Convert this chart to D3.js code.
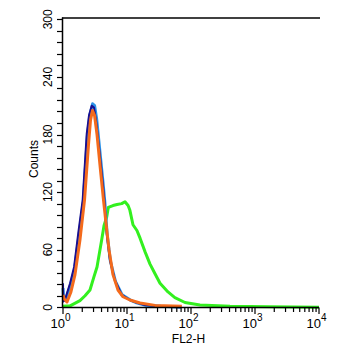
<!DOCTYPE html>
<html><head><meta charset="utf-8">
<script src="https://cdn.jsdelivr.net/npm/d3@7"></script>
<style>body{margin:0;background:#fff}svg{display:block}text{font-family:"Liberation Sans",Arial,Helvetica,sans-serif;fill:#000}</style>
</head><body>
<script>
// FL2-H channel values (log scale) and counts for each histogram
const navyX   = [1.0, 1.01, 1.075, 1.29, 1.49, 1.73, 2.03, 2.35, 2.55, 2.81, 3.05, 3.28, 3.69, 4.17, 4.42, 4.82, 5.42, 6.49, 8.26, 11.1, 13.3, 19, 32.8, 67];
const navyY   = [25, 6, 8, 25, 42, 77, 112, 181, 200, 210, 208, 195, 164, 130, 112, 77, 49, 28, 13, 7.6, 5.5, 2.4, 1, 0];
const blueX   = [1.0, 1.03, 1.1, 1.32, 1.52, 1.77, 2.08, 2.4, 2.62, 2.9, 3.12, 3.36, 3.78, 4.25, 4.5, 4.9, 5.5, 6.6, 8.4, 11.3, 13.6, 19.5, 34, 70];
const blueY   = [20, 7, 8, 24, 40, 74, 110, 178, 200, 212, 210, 196, 162, 128, 110, 76, 48, 27, 13, 7.5, 5, 2.2, 1, 0];
const orangeX = [1.0, 1.04, 1.155, 1.33, 1.54, 1.84, 2.17, 2.5, 2.69, 2.89, 3.11, 3.4, 3.85, 4.29, 4.78, 5.23, 6.04, 7.23, 8.66, 11.1, 16, 27.4, 72];
const orangeY = [13, 9, 5.5, 16, 34, 70, 112, 169, 195, 205, 200, 180, 143, 112, 83, 60, 34, 18, 11, 7.6, 4.5, 2, 1];
const greenX  = [1.0, 1.29, 1.84, 2.21, 2.64, 3.05, 3.4, 4.02, 4.37, 4.82, 5.1, 6.04, 6.98, 8.26, 9.3, 10.4, 11.1, 12.4, 14.3, 16, 19.1, 22.9, 27.4, 32.8, 43.7, 56, 80.5, 138, 407, 1700, 10000];
const greenY  = [1, 1.5, 7, 12, 18, 32, 42, 70, 85, 94, 104, 106, 107, 108, 110, 106, 101, 86, 80, 72, 58, 45, 35, 25, 16, 10, 5, 2.4, 1, 0.5, 0];
const yTicks  = [0, 60, 120, 180, 240, 300];
const xDecades = [0, 1, 2, 3, 4];
const xLabel = "FL2-H", yLabel = "Counts";

const W = 363, H = 357;
const svg = d3.select("body").append("svg").attr("width", W).attr("height", H);
const x = d3.scaleLog().domain([1, 10000]).range([63, 319]);
const y = d3.scaleLinear().domain([0, 300]).range([307.3, 19.3]);

const series = [
  {X: greenX, Y: greenY, c: "#33f01f", w: 3},
  {X: blueX, Y: blueY, c: "#2a93e8", w: 3},
  {X: navyX, Y: navyY, c: "#1a0f8f", w: 2},
  {X: orangeX, Y: orangeY, c: "#f46a1c", w: 3}
];
const line = d3.line().x(d => x(d[0])).y(d => y(d[1]));
series.forEach(s => {
  svg.append("path").datum(s.X.map((v, i) => [v, s.Y[i]]))
    .attr("d", line).attr("fill", "none").attr("stroke", s.c)
    .attr("stroke-width", s.w).attr("stroke-linejoin", "round");
});

// frame: left axis, top line, bottom axis
const ax = svg.append("g").attr("stroke", "#000").attr("stroke-width", 1.5);
ax.append("line").attr("x1", 62.5).attr("x2", 62.5).attr("y1", 17.5).attr("y2", 308);
ax.append("line").attr("x1", 62).attr("x2", 320).attr("y1", 18).attr("y2", 18);
ax.append("line").attr("x1", 62).attr("x2", x(10000)).attr("y1", 307.5).attr("y2", 307.5);

// y ticks (minor every 12)
d3.range(0, 301, 12).forEach(v => {
  ax.append("line").attr("x1", 57).attr("x2", 62.5).attr("y1", Math.round(y(v)) + 0.5).attr("y2", Math.round(y(v)) + 0.5)
    .attr("stroke-width", 1.2);
});
yTicks.forEach(v => {
  svg.append("text").attr("transform", `translate(52,${y(v)}) rotate(-90)`)
    .attr("text-anchor", "middle").attr("font-size", 12).text(v);
});

// x ticks
xDecades.forEach(k => {
  const v = Math.pow(10, k);
  ax.append("line").attr("x1", x(v)).attr("x2", x(v)).attr("y1", 307.5).attr("y2", 314).attr("stroke-width", 1.2);
  if (k < 4) {
    for (let m = 2; m <= 9; m++) {
      const mv = m * v;
      ax.append("line").attr("x1", x(mv)).attr("x2", x(mv)).attr("y1", 307.5).attr("y2", 312).attr("stroke-width", 1.2);
    }
  }
  const t = svg.append("text").attr("x", x(v) - 12.5).attr("y", 328).attr("font-size", 13);
  t.append("tspan").text("10");
  t.append("tspan").attr("dy", -7).attr("font-size", 10).text(k);
});

svg.append("text").attr("x", 188.5).attr("y", 342.5).attr("text-anchor", "middle")
  .attr("font-size", 12).text(xLabel);
svg.append("text").attr("transform", "translate(38,159) rotate(-90)")
  .attr("text-anchor", "middle").attr("font-size", 12).text(yLabel);
</script>
</body></html>
